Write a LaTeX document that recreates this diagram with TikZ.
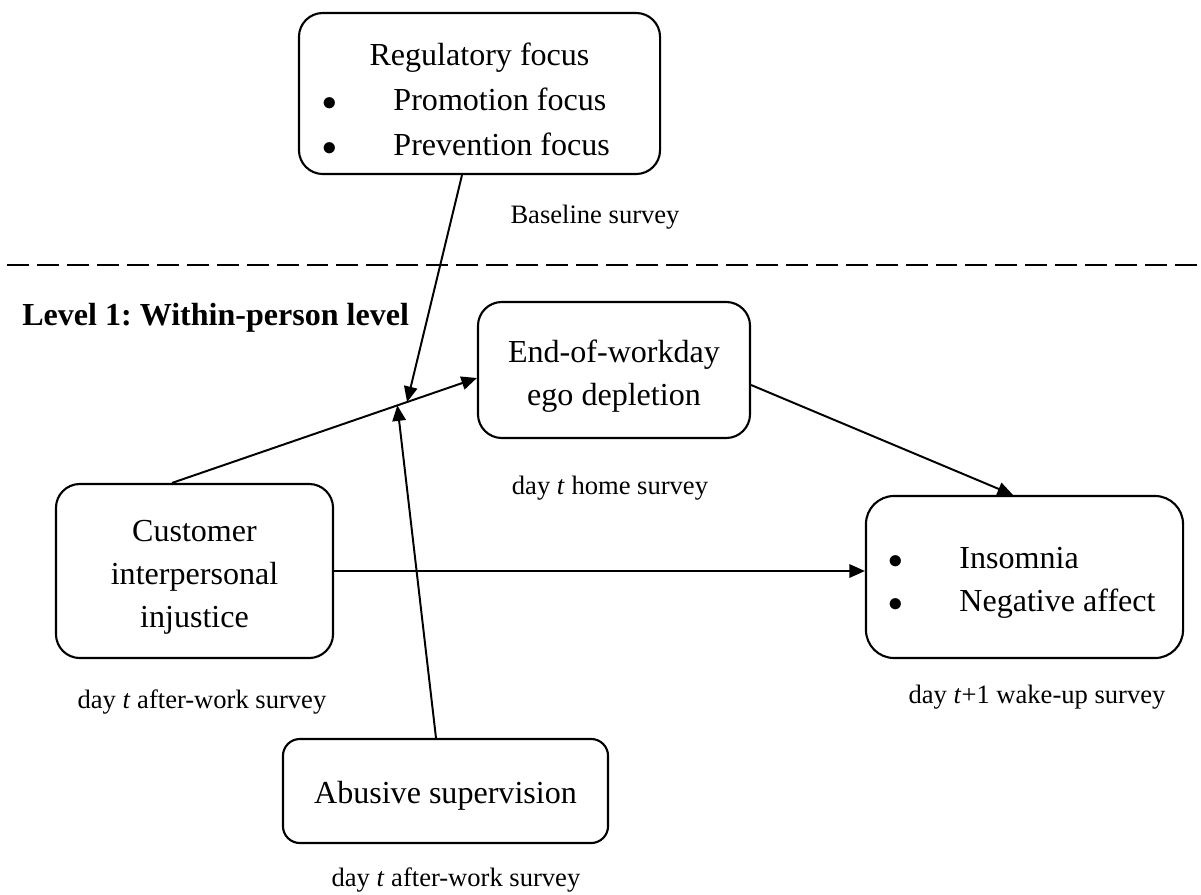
\documentclass[tikz,border=0pt]{standalone}
\usepackage{fontspec}
\setmainfont{Liberation Serif}
\usetikzlibrary{arrows.meta,calc}

\newcommand{\boxfont}{\fontsize{22.8}{30.6}\selectfont}
\newcommand{\notefont}{\fontsize{18.9}{23}\selectfont}
\newcommand{\blt}{$\bullet$}
% lower the lines a little, keep the box size
\newcommand{\lowered}[2][3.5pt]{\raisebox{-#1}[\height][\depth]{#2}}

\begin{document}
\frenchspacing
\begin{tikzpicture}[x=0.025cm,y=-0.025cm,
  box/.style={draw,line width=1.5pt,rounded corners=17pt,align=center,font=\boxfont,inner sep=0pt},
  arrow/.style={-{Triangle[length=11pt,width=9.5pt]},line width=1.4pt},
  note/.style={font=\notefont,inner sep=0pt}
]
\useasboundingbox (0,0) rectangle (1201,894);
\node[box,minimum width=9.025cm,minimum height=4.025cm] (reg) at (479.5,93.5)
  {\lowered[6pt]{\fontsize{22.8}{32}\selectfont\begin{tabular}{@{}p{38.4pt}l@{\hspace{18.9pt}}}
   \multicolumn{2}{@{}c@{}}{Regulatory focus}\\
   \blt & Promotion focus\\
   \blt & Prevention focus
   \end{tabular}}};
\node[note] (basenote) at (595,217) {Baseline survey};
\coordinate (divl) at (7,265);
\coordinate (divr) at (1201,265);
\draw[line width=1.4pt,dash pattern=on 15.6pt off 5.7pt] (divl) -- (divr);
\node[font=\bfseries\boxfont,anchor=west,inner sep=0pt] (level) at (22,318) {Level 1: Within-person level};
\node[box,minimum width=6.8cm,minimum height=3.4cm] (ego) at (614,370)
  {\lowered{\begin{tabular}{@{}c@{}}End-of-workday\\ego depletion\end{tabular}}};
\node[note] (homenote) at (610,488) {day \textit{t} home survey};
\node[box,minimum width=6.925cm,minimum height=4.35cm] (cust) at (194.5,571)
  {\lowered{\begin{tabular}{@{}c@{}}Customer\\interpersonal\\injustice\end{tabular}}};
\node[note] (custnote) at (202,702) {day \textit{t} after-work survey};
\node[box,rounded corners=20pt,minimum width=7.925cm,minimum height=4.05cm] (ins) at (1024.5,577)
  {\lowered[3pt]{\begin{tabular}{@{}p{38.4pt}l@{\hspace{3.5pt}}}
   \blt & Insomnia\\
   \blt & Negative affect
   \end{tabular}}};
\node[note] (insnote) at (1037,697) {day \textit{t}+1 wake-up survey};
\node[box,rounded corners=12pt,minimum width=8.125cm,minimum height=2.6cm] (abus) at (445.5,791)
  {\lowered{Abusive supervision}};
\node[note] (abusnote) at (456,880) {day \textit{t} after-work survey};
\coordinate (cs) at ($(cust.north)+(-22.5,0)$);
\coordinate (ew) at ($(ego.west)+(0,8)$);
\draw[arrow] (cs) -- (ew);
\coordinate (mod1) at ($(cs)!0.771!(ew)$);
\coordinate (mod2) at ($(cs)!0.739!(ew)$);
\draw[arrow] ($(reg.south)+(-17.5,0)$) -- (mod1);
\draw[arrow] ($(abus.north)+(-9.5,0)$) -- (mod2);
\draw[arrow] ($(ego.east)+(0,15)$) -- ($(ins.north)+(-11.5,0)$);
\draw[arrow] (cust.east) -- (cust.east -| ins.west);
\end{tikzpicture}
\end{document}
